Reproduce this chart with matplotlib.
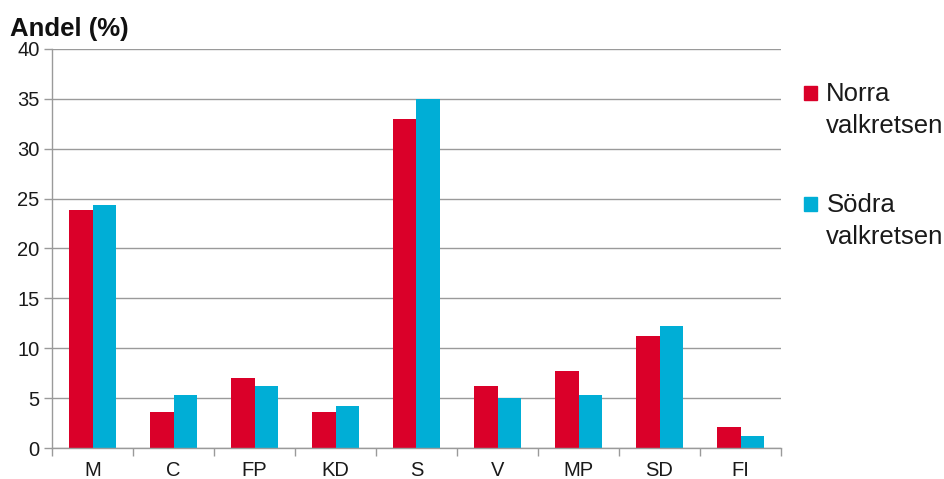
import matplotlib
matplotlib.use("Agg")
import matplotlib.pyplot as plt
import numpy as np
from matplotlib.patches import Patch, Rectangle
from matplotlib.legend_handler import HandlerPatch

categories = ["M", "C", "FP", "KD", "S", "V", "MP", "SD", "FI"]
norra = [23.9, 3.6, 7.0, 3.6, 33.0, 6.2, 7.7, 11.2, 2.1]
sodra = [24.4, 5.3, 6.2, 4.2, 35.0, 5.0, 5.3, 12.2, 1.2]
series_labels = ["Norra\nvalkretsen", "Södra\nvalkretsen"]
yticks = [0, 5, 10, 15, 20, 25, 30, 35, 40]

RED = "#DA0029"
BLUE = "#00AED6"
GRID = "#9A9A9A"
TXT = "#1a1a1a"

plt.rcParams["font.family"] = ["Liberation Sans", "DejaVu Sans"]

fig = plt.figure(figsize=(9.44, 4.79), dpi=100)
ax = fig.add_axes([52/944, 1 - 448/479, (781-52)/944, (448-49)/479])

x = np.arange(len(categories))
w = 0.29
ax.bar(x - w/2, norra, width=w, color=RED, label=series_labels[0], zorder=3)
ax.bar(x + w/2, sodra, width=w, color=BLUE, label=series_labels[1], zorder=3)

ax.set_xlim(-0.5, len(categories) - 0.5)
ax.set_ylim(0, 40)
ax.set_yticks(yticks)
ax.set_yticklabels([str(v) for v in yticks], fontsize=14.5, color=TXT)
ax.set_xticks(x)
ax.set_xticklabels(categories, fontsize=14.5, color=TXT)
ax.set_xticks(np.arange(-0.5, len(categories), 1.0), minor=True)
ax.tick_params(axis="x", which="major", length=0, pad=9.5)
ax.tick_params(axis="x", which="minor", length=6, color=GRID, width=1)
ax.tick_params(axis="y", length=6, color=GRID, width=1, pad=3)

ax.grid(axis="y", color=GRID, linewidth=1, zorder=0)
for s in ["top", "right"]:
    ax.spines[s].set_visible(False)
for s in ["left", "bottom"]:
    ax.spines[s].set_color(GRID)
    ax.spines[s].set_linewidth(1)
    ax.spines[s].set_zorder(4)

fig.text(10/944, 1 - 36/479, "Andel (%)", fontsize=18.5, fontweight="bold",
         color="#111111", ha="left", va="baseline")

LEG_FS = 18.5


def top_square(legend, orig_handle, xdescent, ydescent, width, height, fontsize):
    shift = 0.68 * fontsize
    return Rectangle((-xdescent, -ydescent + shift), width, height)


handles = [Patch(color=RED), Patch(color=BLUE)]
leg = fig.legend(handles, series_labels, loc="upper left",
                 bbox_to_anchor=(794/944, 1 - 72/479), frameon=False,
                 fontsize=LEG_FS, handlelength=0.48, handleheight=0.48,
                 handletextpad=0.38, labelspacing=2.15, borderaxespad=0,
                 handler_map={Patch: HandlerPatch(patch_func=top_square)})
for t in leg.get_texts():
    t.set_color(TXT)
    t.set_linespacing(1.4)

fig.savefig("out.png", dpi=100)
